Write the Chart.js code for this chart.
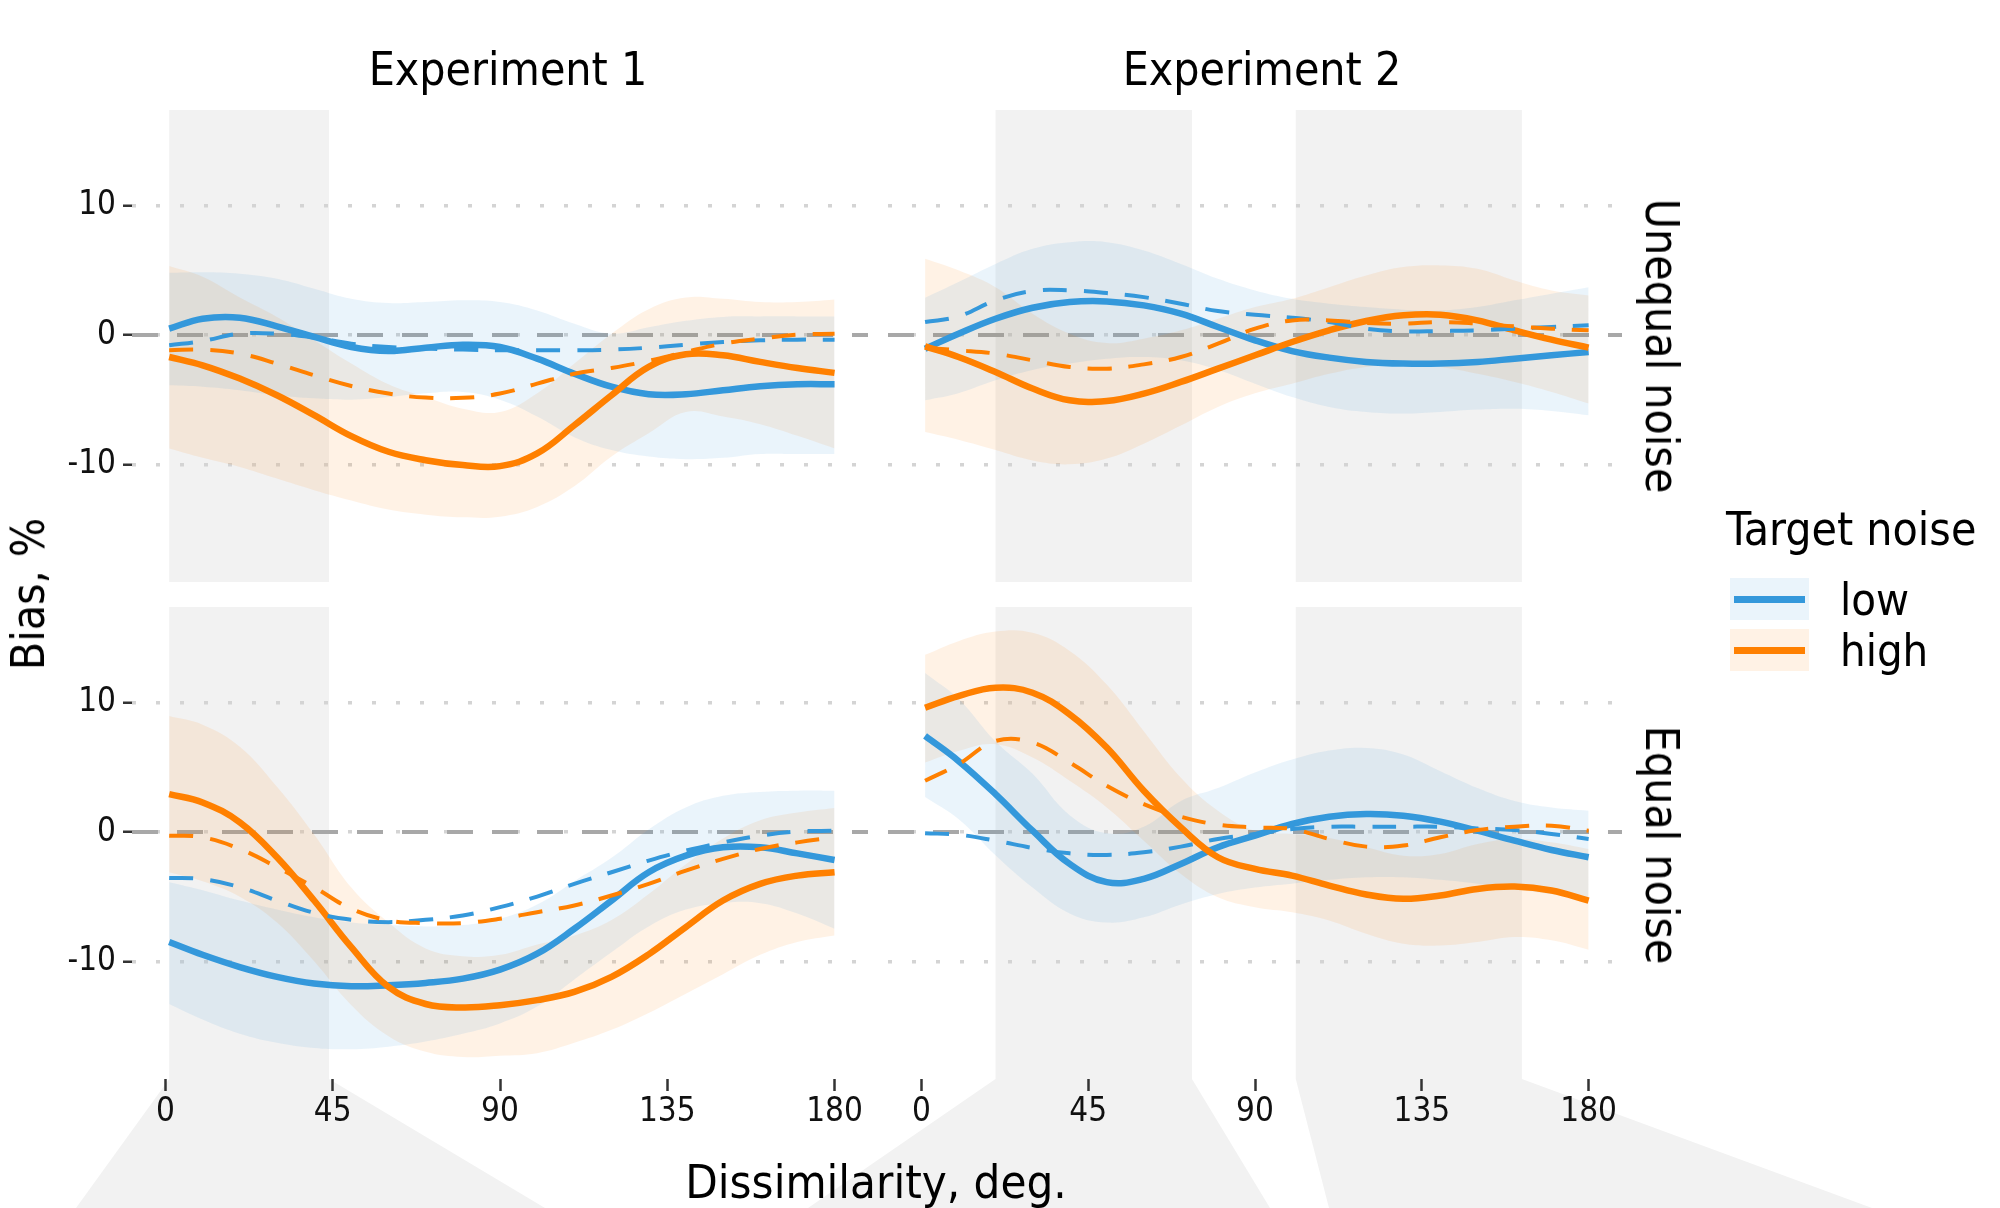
<!DOCTYPE html>
<html>
<head>
<meta charset="utf-8">
<title>Bias by dissimilarity</title>
<script src="https://cdn.jsdelivr.net/npm/chart.js@4.4.1/dist/chart.umd.min.js"></script>
<style>
html, body { margin: 0; padding: 0; background: #fff; }
#page {
    position: relative; width: 2000px; height: 1208px; overflow: hidden; background: #fff;
    font-family: "DejaVu Sans Condensed", "DejaVu Sans", sans-serif; color: #000;
}
#page canvas { position: absolute; left: 0; top: 0; }
.txt { position: absolute; white-space: nowrap; line-height: 1; font-size: 46px; }
.center { transform: translateX(-50%); }
.rot-left { transform: translate(-50%, -50%) rotate(-90deg); }
.rot-right { transform: translate(-50%, -50%) rotate(90deg); }
.key { position: absolute; width: 79px; height: 42px; }
.key div { position: absolute; left: 4px; right: 4px; top: 18px; height: 7px; }
</style>
</head>
<body>
<div id="page">
    <canvas id="p11" width="2000" height="1208"></canvas>
    <canvas id="p12" width="2000" height="1208"></canvas>
    <canvas id="p21" width="2000" height="1208"></canvas>
    <canvas id="p22" width="2000" height="1208"></canvas>

    <div class="txt center" id="strip1" style="left:508px; top:46px;"></div>
    <div class="txt center" id="strip2" style="left:1262px; top:46px;"></div>
    <div class="txt rot-right" id="row1" style="left:1662px; top:346px;"></div>
    <div class="txt rot-right" id="row2" style="left:1662px; top:845px;"></div>
    <div class="txt rot-left" style="left:28px; top:594px;">Bias, %</div>
    <div class="txt center" style="left:876px; top:1158px; font-size:47px;">Dissimilarity, deg.</div>
    <div id="legend"></div>
</div>

<script>
// Data ---------------------------------------------------------------------------------

var X_DEG = [1, 10, 20, 30, 40, 50, 60, 70, 80, 90, 100, 110, 120, 130, 140, 150, 160, 170, 180];
var X_TICKS = [0, 45, 90, 135, 180];
var Y_TICKS = [-10, 0, 10];

var EXPERIMENTS = ['Experiment 1', 'Experiment 2'];
var CONDITIONS = ['Unequal noise', 'Equal noise'];
var NOISE_LEVELS = ['low', 'high'];
var LEGEND_TITLE = 'Target noise';

var E1_BANDS = [[1, 44]];
var E2_BANDS = [[20, 73], [101, 162]];

// Experiment 1, unequal noise
var E1_UNEQ_LOW = [0.49, 1.26, 1.34, 0.67, -0.15, -0.93, -1.24, -0.98, -0.75, -0.93, -1.83, -2.99, -4.0, -4.58, -4.58, -4.27, -3.96, -3.81, -3.81];
var E1_UNEQ_LOW_PRED = [-0.8, -0.46, 0.1, 0.1, -0.2, -0.67, -0.93, -1.05, -1.13, -1.18, -1.18, -1.18, -1.13, -0.98, -0.75, -0.54, -0.41, -0.36, -0.36];
var E1_UNEQ_LOW_UPPER = [4.81, 4.85, 4.74, 4.35, 3.58, 2.8, 2.47, 2.55, 2.68, 2.55, 1.9, 0.87, 0.1, 0.6, 1.1, 1.4, 1.44, 1.44, 1.44];
var E1_UNEQ_LOW_LOWER = [-3.89, -4.0, -4.27, -4.66, -4.9, -5.0, -4.8, -4.5, -4.4, -5.0, -6.3, -7.9, -8.9, -9.4, -9.6, -9.5, -9.2, -9.2, -9.2];
var E1_UNEQ_HIGH = [-1.7, -2.34, -3.37, -4.66, -6.2, -7.82, -9.03, -9.68, -10.06, -10.14, -9.16, -6.98, -4.66, -2.47, -1.49, -1.57, -2.08, -2.55, -2.93];
var E1_UNEQ_HIGH_PRED = [-1.18, -1.13, -1.44, -2.21, -3.11, -3.94, -4.53, -4.84, -4.86, -4.53, -3.76, -2.99, -2.55, -2.0, -1.31, -0.67, -0.28, 0.03, 0.1];
var E1_UNEQ_HIGH_UPPER = [5.33, 4.5, 2.9, 1.4, -0.4, -2.2, -3.8, -4.8, -5.7, -5.95, -4.5, -2.2, 0.1, 2.0, 2.9, 2.8, 2.55, 2.55, 2.75];
var E1_UNEQ_HIGH_LOWER = [-8.78, -9.5, -10.2, -11.1, -12.0, -12.8, -13.5, -13.9, -14.1, -14.05, -13.3, -11.7, -9.4, -7.6, -5.95, -6.3, -6.9, -7.8, -8.78];

// Experiment 2, unequal noise
var E2_UNEQ_LOW = [-1.06, 0.1, 1.26, 2.11, 2.55, 2.6, 2.29, 1.65, 0.62, -0.41, -1.24, -1.75, -2.08, -2.21, -2.21, -2.08, -1.83, -1.57, -1.31];
var E2_UNEQ_LOW_PRED = [1.0, 1.44, 2.68, 3.4, 3.45, 3.24, 2.93, 2.42, 1.85, 1.57, 1.34, 1.0, 0.49, 0.28, 0.31, 0.36, 0.49, 0.62, 0.75];
var E2_UNEQ_LOW_UPPER = [2.88, 4.1, 5.5, 6.67, 7.18, 7.18, 6.54, 5.5, 4.35, 3.45, 2.8, 2.42, 2.16, 1.96, 1.9, 2.16, 2.68, 3.2, 3.7];
var E2_UNEQ_LOW_LOWER = [-5.05, -4.5, -3.5, -2.7, -2.2, -1.83, -1.7, -1.96, -2.7, -3.76, -4.8, -5.56, -5.95, -6.07, -5.95, -5.77, -5.7, -5.87, -6.2];
var E2_UNEQ_HIGH = [-0.88, -1.7, -2.86, -4.14, -5.05, -5.1, -4.53, -3.63, -2.6, -1.57, -0.54, 0.36, 1.08, 1.52, 1.57, 1.13, 0.36, -0.36, -0.98];
var E2_UNEQ_HIGH_PRED = [-0.98, -1.18, -1.44, -1.96, -2.47, -2.6, -2.27, -1.7, -0.67, 0.49, 1.13, 1.13, 0.93, 0.88, 1.0, 0.88, 0.67, 0.49, 0.36];
var E2_UNEQ_HIGH_UPPER = [5.9, 5.0, 3.7, 1.65, 0.1, -0.62, -0.28, 0.36, 1.26, 2.16, 2.8, 3.7, 4.6, 5.25, 5.38, 5.12, 4.22, 3.45, 3.06];
var E2_UNEQ_HIGH_LOWER = [-7.5, -8.1, -8.9, -9.7, -10.0, -9.55, -8.4, -7.0, -5.56, -4.5, -3.76, -3.0, -2.47, -2.3, -2.47, -3.0, -3.63, -4.4, -5.3];

// Experiment 1, equal noise
var E1_EQ_LOW = [-8.5, -9.49, -10.44, -11.2, -11.72, -11.93, -11.85, -11.67, -11.34, -10.64, -9.41, -7.48, -5.3, -3.11, -1.83, -1.18, -1.18, -1.65, -2.16];
var E1_EQ_LOW_PRED = [-3.55, -3.65, -4.27, -5.3, -6.25, -6.79, -6.97, -6.79, -6.45, -5.81, -4.99, -4.01, -3.11, -2.21, -1.44, -0.8, -0.28, 0.03, 0.1];
var E1_EQ_LOW_UPPER = [-3.88, -4.5, -5.3, -6.0, -6.6, -7.0, -7.2, -7.3, -7.2, -6.7, -5.6, -3.8, -2.0, 0.2, 1.9, 2.8, 3.1, 3.2, 3.19];
var E1_EQ_LOW_LOWER = [-13.3, -14.5, -15.6, -16.3, -16.7, -16.8, -16.6, -16.2, -15.6, -14.8, -13.5, -11.4, -9.3, -7.3, -6.0, -5.5, -5.5, -6.3, -7.48];
var E1_EQ_HIGH = [2.93, 2.29, 0.75, -1.95, -5.3, -8.9, -11.98, -13.3, -13.57, -13.39, -13.0, -12.37, -11.2, -9.46, -7.35, -5.3, -4.01, -3.37, -3.11];
var E1_EQ_HIGH_PRED = [-0.28, -0.41, -1.31, -2.72, -4.27, -5.94, -6.84, -7.04, -7.04, -6.71, -6.2, -5.68, -4.91, -4.01, -2.98, -2.08, -1.31, -0.8, -0.41];
var E1_EQ_HIGH_UPPER = [8.97, 8.3, 6.6, 3.5, -0.2, -4.3, -7.0, -9.0, -9.6, -9.5, -8.7, -8.0, -6.8, -4.8, -2.5, -0.5, 0.9, 1.5, 1.85];
var E1_EQ_HIGH_LOWER = [-3.11, -3.8, -5.0, -7.0, -10.0, -13.4, -15.8, -17.0, -17.4, -17.3, -17.1, -16.3, -15.3, -14.0, -12.5, -11.0, -9.5, -8.5, -8.0];

// Experiment 2, equal noise
var E2_EQ_LOW = [7.43, 5.5, 2.93, 0.1, -2.47, -3.88, -3.62, -2.47, -1.18, -0.28, 0.62, 1.18, 1.39, 1.26, 0.8, 0.1, -0.67, -1.39, -1.95];
var E2_EQ_LOW_PRED = [-0.1, -0.21, -0.67, -1.23, -1.65, -1.77, -1.57, -1.13, -0.54, -0.15, 0.23, 0.41, 0.41, 0.41, 0.41, 0.28, 0.15, -0.15, -0.54];
var E2_EQ_LOW_UPPER = [12.3, 10.3, 7.0, 4.5, 1.3, -0.1, 0.4, 2.4, 3.4, 4.6, 5.6, 6.3, 6.5, 6.0, 4.7, 3.4, 2.4, 1.9, 1.65];
var E2_EQ_LOW_LOWER = [2.7, 1.0, -1.8, -4.3, -6.3, -7.0, -6.6, -5.6, -4.8, -4.3, -4.0, -3.7, -3.5, -3.5, -3.7, -4.0, -4.4, -4.8, -5.2];
var E2_EQ_HIGH = [9.61, 10.51, 11.16, 10.77, 9.1, 6.53, 3.19, 0.36, -1.95, -2.85, -3.37, -4.14, -4.83, -5.17, -4.91, -4.4, -4.22, -4.52, -5.3];
var E2_EQ_HIGH_PRED = [3.96, 5.24, 7.04, 6.92, 5.37, 3.57, 2.16, 1.18, 0.57, 0.36, 0.23, -0.54, -1.13, -1.05, -0.41, 0.15, 0.41, 0.49, 0.1];
var E2_EQ_HIGH_UPPER = [13.7, 14.76, 15.5, 15.4, 14.0, 11.4, 7.8, 4.2, 1.65, 0.1, -0.15, -0.46, -1.18, -1.83, -1.7, -0.93, -0.54, -0.8, -1.31];
var E2_EQ_HIGH_LOWER = [5.37, 6.27, 6.79, 5.76, 3.96, 1.9, -0.67, -3.24, -5.04, -5.81, -6.2, -6.84, -7.87, -8.64, -8.77, -8.5, -8.12, -8.38, -9.1];

// Style ------------------------------------------------------------------------------

var FONT_FAMILY = '"DejaVu Sans Condensed", "DejaVu Sans", sans-serif';
var COLORS = {
    low: { line: '#3498db', ribbon: 'rgba(52, 152, 219, 0.1)' },
    high: { line: '#ff8000', ribbon: 'rgba(255, 128, 0, 0.1)' }
};
var BAND_COLOR = '#f2f2f2';
var GRID_COLOR = '#d4d4d4';
var ZERO_COLOR = '#a8a8a8';
var TICK_COLOR = '#333333';

var X_RANGE = [-9, 189];
var Y_RANGE = [-19.1, 17.4];

var PAGE_W = 2000, PAGE_H = 1208;
var COL_X = [[132, 868], [888, 1622]];
var ROW_Y = [[110, 582], [607, 1079]];

// where the band shadows meet the bottom edge of the page
var FEET = [[[76, 545]], [[808, 1270], [1329, 1872]]];

// Plugins ----------------------------------------------------------------------------

var bandPlugin = {
    id: 'bands',
    beforeDraw: function (chart, args, opts) {
        var ctx = chart.ctx;
        var area = chart.chartArea;
        var xs = chart.scales.x;
        ctx.save();
        ctx.fillStyle = BAND_COLOR;
        opts.bands.forEach(function (band, i) {
            var x0 = xs.getPixelForValue(band[0]);
            var x1 = xs.getPixelForValue(band[1]);
            ctx.fillRect(x0, area.top, x1 - x0, area.bottom - area.top);
            if (opts.feet) {
                var foot = opts.feet[i];
                ctx.beginPath();
                ctx.moveTo(x0, area.bottom);
                ctx.lineTo(x1, area.bottom);
                ctx.lineTo(foot[1], chart.height);
                ctx.lineTo(foot[0], chart.height);
                ctx.closePath();
                ctx.fill();
            }
        });
        ctx.restore();
    }
};

var zeroLinePlugin = {
    id: 'zeroLine',
    beforeDatasetsDraw: function (chart) {
        var ctx = chart.ctx;
        var area = chart.chartArea;
        var y = chart.scales.y.getPixelForValue(0);
        ctx.save();
        ctx.strokeStyle = ZERO_COLOR;
        ctx.lineWidth = 4;
        ctx.setLineDash([26, 19]);
        ctx.beginPath();
        ctx.moveTo(area.left, y);
        ctx.lineTo(area.right, y);
        ctx.stroke();
        ctx.restore();
    }
};

// Builders ---------------------------------------------------------------------------

function points(xs, ys) {
    return xs.map(function (x, i) { return { x: x, y: ys[i] }; });
}

function fixSize(size) {
    return function (scale) {
        if (scale.isHorizontal()) {
            scale.height = size;
        } else {
            scale.width = size;
        }
        scale.paddingTop = scale.paddingBottom = scale.paddingLeft = scale.paddingRight = 0;
    };
}

function fixTicks(values) {
    return function (scale) {
        scale.ticks = values.map(function (v) { return { value: v }; });
    };
}

function buildDatasets(panel) {
    var sets = [];
    NOISE_LEVELS.slice().reverse().forEach(function (level) {
        var s = panel[level];
        var c = COLORS[level];
        sets.push({ label: level + ' pred', data: points(X_DEG, s.pred), borderColor: c.line,
            borderWidth: 4, borderDash: [24, 17], fill: false, order: 1 });
    });
    NOISE_LEVELS.slice().reverse().forEach(function (level) {
        var s = panel[level];
        var c = COLORS[level];
        sets.push({ label: level, data: points(X_DEG, s.fit), borderColor: c.line,
            borderWidth: 6.5, fill: false, order: 2 });
    });
    NOISE_LEVELS.forEach(function (level) {
        var s = panel[level];
        var c = COLORS[level];
        sets.push({ label: level + ' upper', data: points(X_DEG, s.upper), borderColor: 'rgba(0,0,0,0)',
            borderWidth: 0, backgroundColor: c.ribbon, fill: '+1', order: 10 });
        sets.push({ label: level + ' lower', data: points(X_DEG, s.lower), borderColor: 'rgba(0,0,0,0)',
            borderWidth: 0, fill: false, order: 10 });
    });
    return sets;
}

function makePanel(canvasId, panel, row, col) {
    var showX = row === 1;
    var showY = col === 0;
    var xAxisH = showX ? PAGE_H - ROW_Y[row][1] : 0;
    var yAxisW = showY ? COL_X[col][0] : 0;
    var font = { family: FONT_FAMILY, size: 33 };

    return new Chart(document.getElementById(canvasId).getContext('2d'), {
        type: 'line',
        data: { datasets: buildDatasets(panel) },
        options: {
            responsive: false,
            animation: false,
            events: [],
            layout: {
                padding: {
                    left: showY ? 0 : COL_X[col][0],
                    right: PAGE_W - COL_X[col][1],
                    top: ROW_Y[row][0],
                    bottom: showX ? 0 : PAGE_H - ROW_Y[row][1]
                }
            },
            elements: { point: { radius: 0 }, line: { tension: 0.4 } },
            plugins: {
                legend: { display: false },
                tooltip: { enabled: false },
                bands: { bands: panel.bands, feet: showX ? panel.feet : null }
            },
            scales: {
                x: {
                    type: 'linear',
                    min: X_RANGE[0],
                    max: X_RANGE[1],
                    display: showX,
                    afterBuildTicks: fixTicks(X_TICKS),
                    afterFit: fixSize(xAxisH),
                    grid: { drawOnChartArea: false, drawTicks: true, tickLength: 12, tickColor: TICK_COLOR, tickWidth: 2.5 },
                    border: { display: false },
                    ticks: { color: '#111', font: font, padding: 2, maxRotation: 0, autoSkip: false }
                },
                y: {
                    type: 'linear',
                    min: Y_RANGE[0],
                    max: Y_RANGE[1],
                    afterBuildTicks: fixTicks(Y_TICKS),
                    afterFit: fixSize(yAxisW),
                    grid: { color: GRID_COLOR, lineWidth: 3.5, drawTicks: showY, tickLength: 9, tickColor: TICK_COLOR, tickWidth: 2.5 },
                    border: { display: false, dash: [4, 20] },
                    ticks: { display: showY, color: '#111', font: font, padding: 7 }
                }
            }
        },
        plugins: [bandPlugin, zeroLinePlugin]
    });
}

// Panels -----------------------------------------------------------------------------

var PANELS = [
    { id: 'p11', row: 0, col: 0, bands: E1_BANDS, feet: FEET[0],
      low: { fit: E1_UNEQ_LOW, pred: E1_UNEQ_LOW_PRED, upper: E1_UNEQ_LOW_UPPER, lower: E1_UNEQ_LOW_LOWER },
      high: { fit: E1_UNEQ_HIGH, pred: E1_UNEQ_HIGH_PRED, upper: E1_UNEQ_HIGH_UPPER, lower: E1_UNEQ_HIGH_LOWER } },
    { id: 'p12', row: 0, col: 1, bands: E2_BANDS, feet: FEET[1],
      low: { fit: E2_UNEQ_LOW, pred: E2_UNEQ_LOW_PRED, upper: E2_UNEQ_LOW_UPPER, lower: E2_UNEQ_LOW_LOWER },
      high: { fit: E2_UNEQ_HIGH, pred: E2_UNEQ_HIGH_PRED, upper: E2_UNEQ_HIGH_UPPER, lower: E2_UNEQ_HIGH_LOWER } },
    { id: 'p21', row: 1, col: 0, bands: E1_BANDS, feet: FEET[0],
      low: { fit: E1_EQ_LOW, pred: E1_EQ_LOW_PRED, upper: E1_EQ_LOW_UPPER, lower: E1_EQ_LOW_LOWER },
      high: { fit: E1_EQ_HIGH, pred: E1_EQ_HIGH_PRED, upper: E1_EQ_HIGH_UPPER, lower: E1_EQ_HIGH_LOWER } },
    { id: 'p22', row: 1, col: 1, bands: E2_BANDS, feet: FEET[1],
      low: { fit: E2_EQ_LOW, pred: E2_EQ_LOW_PRED, upper: E2_EQ_LOW_UPPER, lower: E2_EQ_LOW_LOWER },
      high: { fit: E2_EQ_HIGH, pred: E2_EQ_HIGH_PRED, upper: E2_EQ_HIGH_UPPER, lower: E2_EQ_HIGH_LOWER } }
];

PANELS.forEach(function (p) { makePanel(p.id, p, p.row, p.col); });

// Labels and legend ------------------------------------------------------------------

document.getElementById('strip1').textContent = EXPERIMENTS[0];
document.getElementById('strip2').textContent = EXPERIMENTS[1];
document.getElementById('row1').textContent = CONDITIONS[0];
document.getElementById('row2').textContent = CONDITIONS[1];

(function buildLegend() {
    var legend = document.getElementById('legend');
    var html = '<div class="txt" style="left:1726px; top:506px;">' + LEGEND_TITLE + '</div>';
    NOISE_LEVELS.forEach(function (level, i) {
        var top = 578 + i * 51;
        html += '<div class="key" style="left:1730px; top:' + top + 'px; background:' + COLORS[level].ribbon + ';">' +
                '<div style="background:' + COLORS[level].line + ';"></div></div>';
        html += '<div class="txt" style="left:1840px; top:' + (top - 1) + 'px; font-size:45px;">' + level + '</div>';
    });
    legend.innerHTML = html;
})();
</script>
</body>
</html>
